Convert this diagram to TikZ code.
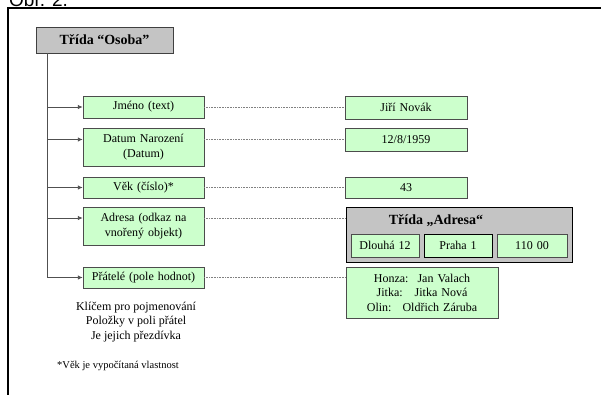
\documentclass[tikz,border=0pt]{standalone}
\usepackage{fontspec}
\setmainfont{Liberation Serif}
\newfontfamily\arialfont{Liberation Sans}
\usepackage{tikz}
\usetikzlibrary{arrows.meta}
\definecolor{boxgreen}{HTML}{CCFFCC}
\definecolor{boxgray}{HTML}{C4C4C4}
\definecolor{linegray}{HTML}{505050}

\begin{document}
\begin{tikzpicture}[x=1pt, y=-1pt,
  field/.style={rectangle, draw=black!70, fill=boxgreen, text width=#1, text centered, inner xsep=0pt, inner ysep=0pt, font=\fontsize{12}{15}\selectfont},
  field/.default=121pt,
  classbox/.style={rectangle, draw=black!75, fill=boxgray, inner sep=0pt},
  branch/.style={draw=linegray, line width=0.9pt, -{Latex[length=5pt,width=4.5pt]}},
  link/.style={draw=gray, line width=0.6pt, dash pattern=on 0.8pt off 0.8pt}]
\useasboundingbox (0,0) rectangle (601,394);

\node [anchor=base west, inner sep=0pt, font=\arialfont\fontsize{19}{19}\selectfont] (obr) at (9,6) {Obr. 2.};
\draw [line width=2pt] (8,400) -- (8,7.5) -- (610,7.5);

\node [classbox, minimum width=137pt, minimum height=26pt, font=\bfseries\fontsize{14}{16}\selectfont] (osoba) at (104.5,40) {Třída “Osoba”};

\node [field, minimum height=22pt] (jmeno) at (143.5,107) {Jméno (text)};
\node [field, minimum height=38pt] (datum) at (143.5,147) {Datum Narození\\(Datum)};
\node [field, minimum height=21pt] (vek) at (143.5,187.5) {Věk (číslo)*};
\node [field, minimum height=38pt] (adresa) at (143.5,226) {Adresa (odkaz na\\vnořený objekt)};
\node [field, minimum height=21pt] (pratele) at (143.5,277.5) {Přátelé (pole hodnot)};

\node [field=122pt, minimum height=23pt] (jmenoval) at (406,107.5) {Jiří Novák};
\node [field=122pt, minimum height=23pt] (datumval) at (406,139.5) {12/8/1959};
\node [field=122pt, minimum height=21pt] (vekval) at (406,187.5) {43};

\node [classbox, draw=black, line width=1pt, minimum width=226pt, minimum height=55pt] (adresaobj) at (459,234.5) {};
\node [font=\bfseries\fontsize{14}{16}\selectfont, inner sep=0pt] (adresatitle) at (436,221) {Třída „Adresa“};
\node [field=68pt, minimum height=23pt] (ulice) at (385,245.5) {Dlouhá 12};
\node [field=68pt, minimum height=23pt, draw=black, line width=0.8pt] (mesto) at (458,245.5) {Praha 1};
\node [field=70pt, minimum height=23pt] (psc) at (532,245.5) {110 00};

\node [field=152pt, minimum height=51pt, font=\fontsize{12}{14.5}\selectfont] (prateleval) at (422,292.5) {Honza:\hspace{9pt}Jan Valach\\Jitka:\hspace{12pt}Jitka Nová\\Olin:\hspace{11pt}Oldřich Záruba};

\node [text centered, inner sep=0pt, font=\fontsize{12}{14.5}\selectfont, align=center] (klic) at (136,322) {Klíčem pro pojmenování\\Položky v poli přátel\\Je jejich přezdívka};
\node [anchor=west, inner sep=0pt, font=\fontsize{10.5}{12}\selectfont] (poznamka) at (57,366) {*Věk je vypočítaná vlastnost};

\coordinate (top) at (47,53);
\coordinate (br1) at (47,107);
\coordinate (br2) at (47,139.5);
\coordinate (br3) at (47,187.5);
\coordinate (br4) at (47,218);
\coordinate (br5) at (47,277.5);

\draw [draw=linegray, line width=0.9pt] (top) -- (br5);
\foreach \b/\n/\v in {br1/jmeno/jmenoval, br2/datum/datumval, br3/vek/vekval, br4/adresa/adresaobj, br5/pratele/prateleval} {
  \draw [branch] (\b) -- (\b -| \n.west);
  \draw [link] (\b -| \n.east) -- (\b -| \v.west);
}
\end{tikzpicture}
\end{document}
